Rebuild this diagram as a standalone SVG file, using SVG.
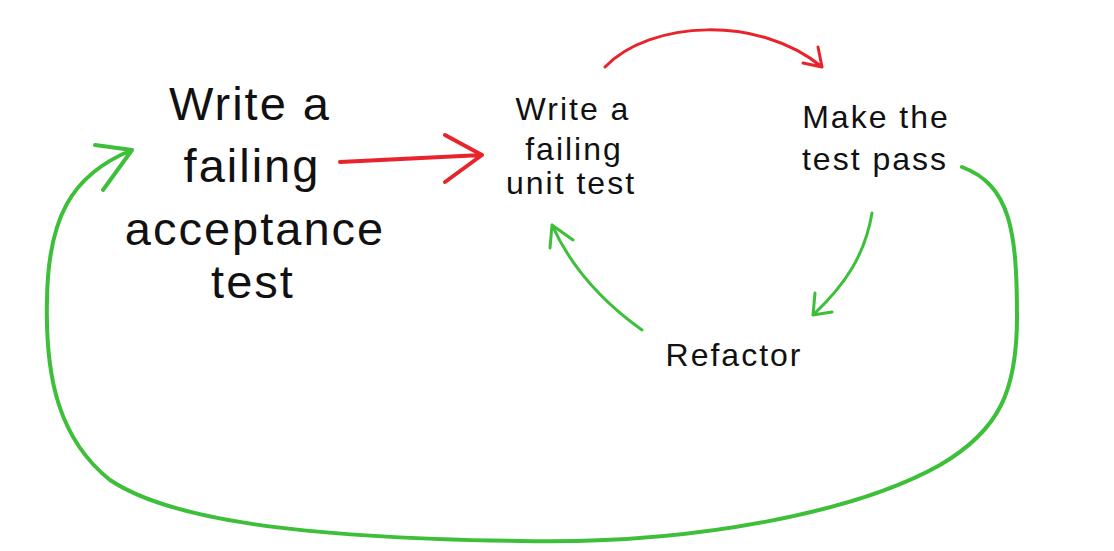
<svg xmlns="http://www.w3.org/2000/svg" width="1114" height="551" viewBox="0 0 1114 551">
<style>
.t{font-family:"Liberation Sans","DejaVu Sans",sans-serif;fill:#111;text-anchor:middle}
.big{font-size:47px;letter-spacing:2px}
.mid{font-size:32px;letter-spacing:2px}
.red{fill:none;stroke:#e8232b;stroke-linecap:round;stroke-linejoin:round}
.grn{fill:none;stroke:#3dbf3a;stroke-linecap:round;stroke-linejoin:round}
</style>
<rect width="1114" height="551" fill="#fff"/>
<g id="connectors">
  <path class="red" stroke-width="4" d="M340,162 L482,155 M445,135 L482,155 L445,182"/>
  <path class="red" stroke-width="3" d="M605,67 C650,20 760,15 822,67 M803,63 L822,67 L818,47"/>
  <path class="grn" stroke-width="3" d="M872,213 C865,255 845,285 813,315 M815,293 L813,315 L832,312"/>
  <path class="grn" stroke-width="3" d="M642,330 C600,300 570,265 552,225 M550,248 L552,225 L573,240"/>
  <path class="grn" stroke-width="4" d="M962,167 C1010,185 1017,230 1017,317 C1017,390 1000,430 940,465 C860,510 700,545 520,541 C300,538 170,520 110,480 C60,440 45,380 47,300 C48,220 70,175 132,150 M95,145 L132,150 L103,190"/>
</g>
<g id="node-acceptance">
  <text class="t big" x="250" y="120">Write a</text>
  <text class="t big" x="252" y="182">failing</text>
  <text class="t big" x="255" y="245">acceptance</text>
  <text class="t big" x="253" y="298">test</text>
</g>
<g id="node-unit">
  <text class="t mid" x="573" y="120">Write a</text>
  <text class="t mid" x="574" y="160">failing</text>
  <text class="t mid" x="571" y="194">unit test</text>
</g>
<g id="node-pass">
  <text class="t mid" x="876" y="128">Make the</text>
  <text class="t mid" x="875" y="170">test pass</text>
</g>
<g id="node-refactor">
  <text class="t mid" x="734" y="366">Refactor</text>
</g>
</svg>
